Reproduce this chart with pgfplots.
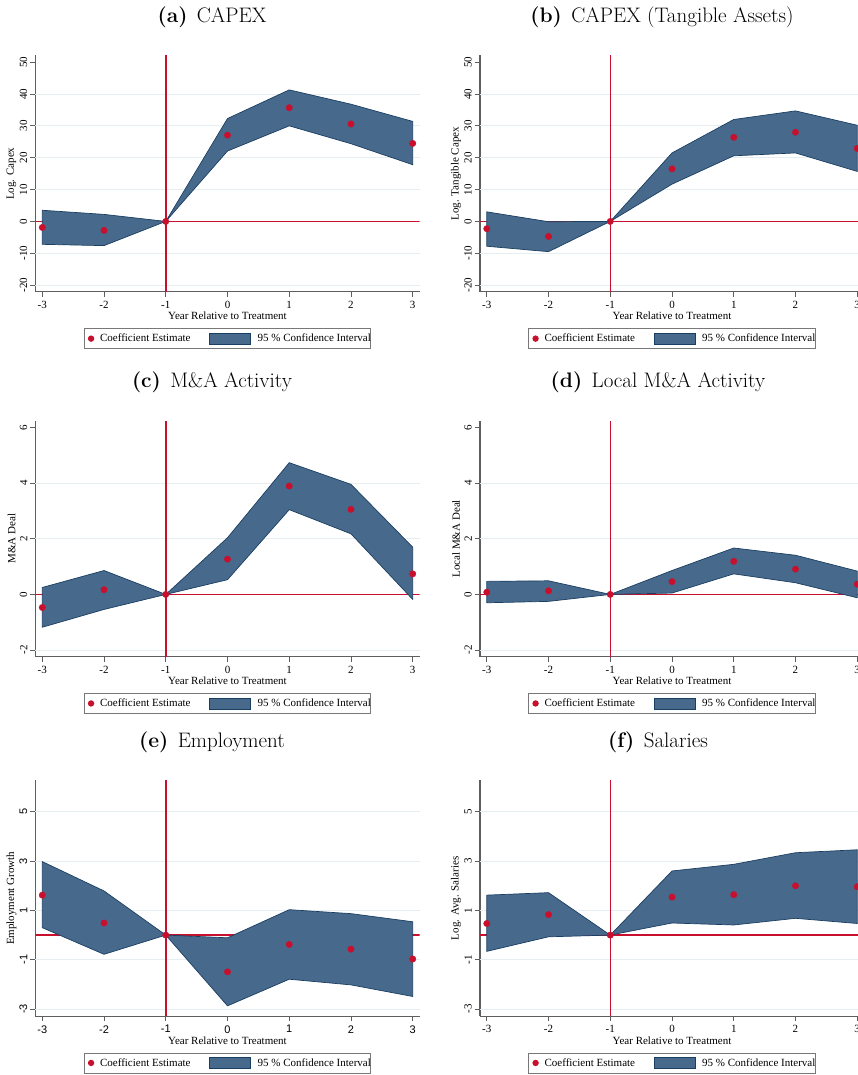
\documentclass[border=0pt]{standalone}
\usepackage{fontspec}
\usepackage{pgfplots}
\pgfplotsset{compat=1.18}
\newfontfamily\tms{Liberation Serif}
\newfontfamily\arl{Liberation Sans}
\definecolor{cran}{RGB}{200,16,46}
\definecolor{bandfill}{RGB}{71,105,139}
\definecolor{bandline}{RGB}{26,62,98}
\definecolor{gridc}{RGB}{230,238,241}
\definecolor{axc}{RGB}{95,95,95}
\definecolor{legc}{RGB}{120,120,120}

\pgfplotsset{
  evt/.style={
    scale only axis, width=384pt, height=236pt,
    xmin=-3.11, xmax=3.11,
    axis x line*=bottom, axis y line*=left,
    axis line style={draw=axc, line width=1.1pt, -},
    xtick={-3,-2,-1,0,1,2,3},
    tick align=outside, major tick length=5pt,
    tick style={draw=axc, line width=0.9pt},
    ticklabel style={font=\fontsize{11}{12}\tms},
    /pgf/number format/assume math mode=true,
    yticklabel style={rotate=90, anchor=south, inner sep=0pt},
    xticklabel style={anchor=north, inner sep=0pt},
    xticklabel shift=4pt, yticklabel shift=3pt,
    xlabel={Year Relative to Treatment},
    xlabel style={font=\fontsize{11}{12}\tms, at={(axis description cs:0.5,0)}, anchor=north, yshift=-20pt, inner sep=0pt},
    ylabel style={font=\fontsize{11}{12}\tms, at={(axis description cs:-0.0625,0.5)}, anchor=center, inner sep=0pt},
    extra y tick labels={},
    extra y tick style={grid=major, major grid style={draw=gridc, line width=0.9pt}},
    legend columns=2,
    legend cell align=left,
    legend style={at={(0.5,-0.154)}, anchor=north, draw=legc, line width=0.9pt,
      inner sep=0pt, column sep=0pt, row sep=0pt,
      nodes={inner sep=0pt, font=\fontsize{11}{12}\tms}},
  },
  bandst/.style={fill=bandfill, draw=bandline, line width=0.7pt,
    legend image code/.code={\path[draw=none, fill=none] (0pt,-10pt) rectangle (67pt,10pt);
      \path[fill=bandfill, draw=bandline, line width=0.6pt] (19pt,-5.5pt) rectangle (60pt,5.5pt);}},
  dotst/.style={only marks, mark=*, mark size=3.2pt, draw=cran, fill=cran, mark options={draw=cran, fill=cran}, forget plot},
  dotleg/.style={legend image code/.code={\path[draw=none, fill=none] (0pt,-10pt) rectangle (16pt,10pt);
      \path[fill=cran, draw=none] (7pt,0pt) circle (3.2pt);}},
  refl/.style={draw=cran, line width=1.5pt, forget plot, mark=none},
}

\begin{document}
\begin{tikzpicture}
\useasboundingbox (0pt,0pt) rectangle (858pt,1075pt);
\clip (0pt,0pt) rectangle (858pt,1075pt);

% titles
\node[anchor=base, font=\fontsize{21}{24}\selectfont] at (212pt,1052pt) {\textbf{(a)}\hspace{0.45em}CAPEX};
\node[anchor=base, font=\fontsize{21}{24}\selectfont] at (662pt,1052pt) {\textbf{(b)}\hspace{0.45em}CAPEX (Tangible Assets)};
\node[anchor=base, font=\fontsize{21}{24}\selectfont] at (212pt,687.6pt) {\textbf{(c)}\hspace{0.45em}M\&A Activity};
\node[anchor=base, font=\fontsize{21}{24}\selectfont] at (658pt,687.6pt) {\textbf{(d)}\hspace{0.45em}Local M\&A Activity};
\node[anchor=base, font=\fontsize{21}{24}\selectfont] at (212pt,327.6pt) {\textbf{(e)}\hspace{0.45em}Employment};
\node[anchor=base, font=\fontsize{21}{24}\selectfont] at (658pt,327.6pt) {\textbf{(f)}\hspace{0.45em}Salaries};

% (a)
\begin{axis}[evt, at={(35.5pt,783.2pt)}, anchor=south west, height=236.3pt,
  ymin=-22.1, ymax=52.1, ytick={-20,-10,0,10,20,30,40,50},
  extra y ticks={-20,-10,10,20,30,40}, ylabel={Log. Capex}]
\addplot[refl] coordinates {(-3.11,0) (3.11,0)};
\addplot[refl] coordinates {(-1,-22.1) (-1,52.1)};
\addlegendimage{dotleg}
\addlegendentry{Coefficient Estimate}
\addplot[bandst] coordinates {(-3,3.5) (-2,2.2) (-1,0) (0,32.3) (1,41.3) (2,36.8) (3,31.4)
  (3,17.8) (2,24.4) (1,30.0) (0,22.1) (-1,0) (-2,-7.6) (-3,-7.2)} -- cycle;
\addlegendentry{95 \% Confidence Interval\hspace{8pt}}
\addplot[dotst] coordinates {(-3,-1.9) (-2,-2.8) (-1,0) (0,27.1) (1,35.7) (2,30.6) (3,24.5)};
\end{axis}

% (b)
\begin{axis}[evt, at={(480pt,783.2pt)}, anchor=south west, height=236.3pt,
  ymin=-22.1, ymax=52.1, ytick={-20,-10,0,10,20,30,40,50},
  extra y ticks={-20,-10,10,20,30,40}, ylabel={Log. Tangible Capex}]
\addplot[refl] coordinates {(-3.11,0) (3.11,0)};
\addplot[refl] coordinates {(-1,-22.1) (-1,52.1)};
\addlegendimage{dotleg}
\addlegendentry{Coefficient Estimate}
\addplot[bandst] coordinates {(-3,3.0) (-2,-0.1) (-1,0) (0,21.5) (1,32.0) (2,34.7) (3,30.2)
  (3,15.7) (2,21.5) (1,20.6) (0,11.7) (-1,0) (-2,-9.5) (-3,-7.8)} -- cycle;
\addlegendentry{95 \% Confidence Interval\hspace{8pt}}
\addplot[dotst] coordinates {(-3,-2.3) (-2,-4.7) (-1,0) (0,16.5) (1,26.4) (2,28.0) (3,22.9)};
\end{axis}

% (c)
\begin{axis}[evt, at={(35.5pt,418.3pt)}, anchor=south west, height=235.7pt,
  ymin=-2.24, ymax=6.24, ytick={-2,0,2,4,6},
  extra y ticks={-2,2,4}, ylabel={M\&A Deal}]
\addplot[refl] coordinates {(-3.11,0) (3.11,0)};
\addplot[refl] coordinates {(-1,-2.24) (-1,6.24)};
\addlegendimage{dotleg}
\addlegendentry{Coefficient Estimate}
\addplot[bandst] coordinates {(-3,0.25) (-2,0.86) (-1,0) (0,2.04) (1,4.74) (2,3.96) (3,1.70)
  (3,-0.18) (2,2.18) (1,3.05) (0,0.53) (-1,0) (-2,-0.54) (-3,-1.18)} -- cycle;
\addlegendentry{95 \% Confidence Interval\hspace{8pt}}
\addplot[dotst] coordinates {(-3,-0.47) (-2,0.17) (-1,0) (0,1.27) (1,3.90) (2,3.06) (3,0.74)};
\end{axis}

% (d)
\begin{axis}[evt, at={(480pt,418.3pt)}, anchor=south west, height=235.7pt,
  ymin=-2.24, ymax=6.24, ytick={-2,0,2,4,6},
  extra y ticks={-2,2,4}, ylabel={Local M\&A Deal}]
\addplot[refl] coordinates {(-3.11,0) (3.11,0)};
\addplot[refl] coordinates {(-1,-2.24) (-1,6.24)};
\addlegendimage{dotleg}
\addlegendentry{Coefficient Estimate}
\addplot[bandst] coordinates {(-3,0.47) (-2,0.49) (-1,0) (0,0.86) (1,1.67) (2,1.41) (3,0.84)
  (3,-0.12) (2,0.42) (1,0.74) (0,0.05) (-1,0) (-2,-0.25) (-3,-0.30)} -- cycle;
\addlegendentry{95 \% Confidence Interval\hspace{8pt}}
\addplot[dotst] coordinates {(-3,0.08) (-2,0.13) (-1,0) (0,0.46) (1,1.19) (2,0.91) (3,0.37)};
\end{axis}

% (e)
\begin{axis}[evt, at={(35.5pt,58.8pt)}, anchor=south west, height=235.7pt,
  ymin=-3.29, ymax=6.27, ytick={-3,-1,1,3,5},
  extra y ticks={-3,-1,1,3,5}, ylabel={Employment Growth},
  ticklabel style={font=\fontsize{11}{12}\arl}]
\addplot[refl] coordinates {(-3.11,0) (3.11,0)};
\addplot[refl] coordinates {(-1,-3.29) (-1,6.27)};
\addlegendimage{dotleg}
\addlegendentry{Coefficient Estimate}
\addplot[bandst] coordinates {(-3,2.98) (-2,1.79) (-1,0) (0,-0.11) (1,1.03) (2,0.87) (3,0.54)
  (3,-2.49) (2,-2.02) (1,-1.79) (0,-2.87) (-1,0) (-2,-0.78) (-3,0.30)} -- cycle;
\addlegendentry{95 \% Confidence Interval\hspace{8pt}}
\addplot[dotst] coordinates {(-3,1.62) (-2,0.49) (-1,0) (0,-1.49) (1,-0.38) (2,-0.57) (3,-0.97)};
\end{axis}

% (f)
\begin{axis}[evt, at={(480pt,58.8pt)}, anchor=south west, height=235.7pt,
  ymin=-3.29, ymax=6.27, ytick={-3,-1,1,3,5},
  extra y ticks={-3,-1,1,3,5}, ylabel={Log. Avg. Salaries}]
\addplot[refl] coordinates {(-3.11,0) (3.11,0)};
\addplot[refl] coordinates {(-1,-3.29) (-1,6.27)};
\addlegendimage{dotleg}
\addlegendentry{Coefficient Estimate}
\addplot[bandst] coordinates {(-3,1.62) (-2,1.72) (-1,0) (0,2.60) (1,2.87) (2,3.34) (3,3.46)
  (3,0.47) (2,0.68) (1,0.41) (0,0.49) (-1,0) (-2,-0.07) (-3,-0.66)} -- cycle;
\addlegendentry{95 \% Confidence Interval\hspace{8pt}}
\addplot[dotst] coordinates {(-3,0.47) (-2,0.83) (-1,0) (0,1.54) (1,1.64) (2,2.00) (3,1.96)};
\end{axis}
\end{tikzpicture}
\end{document}
